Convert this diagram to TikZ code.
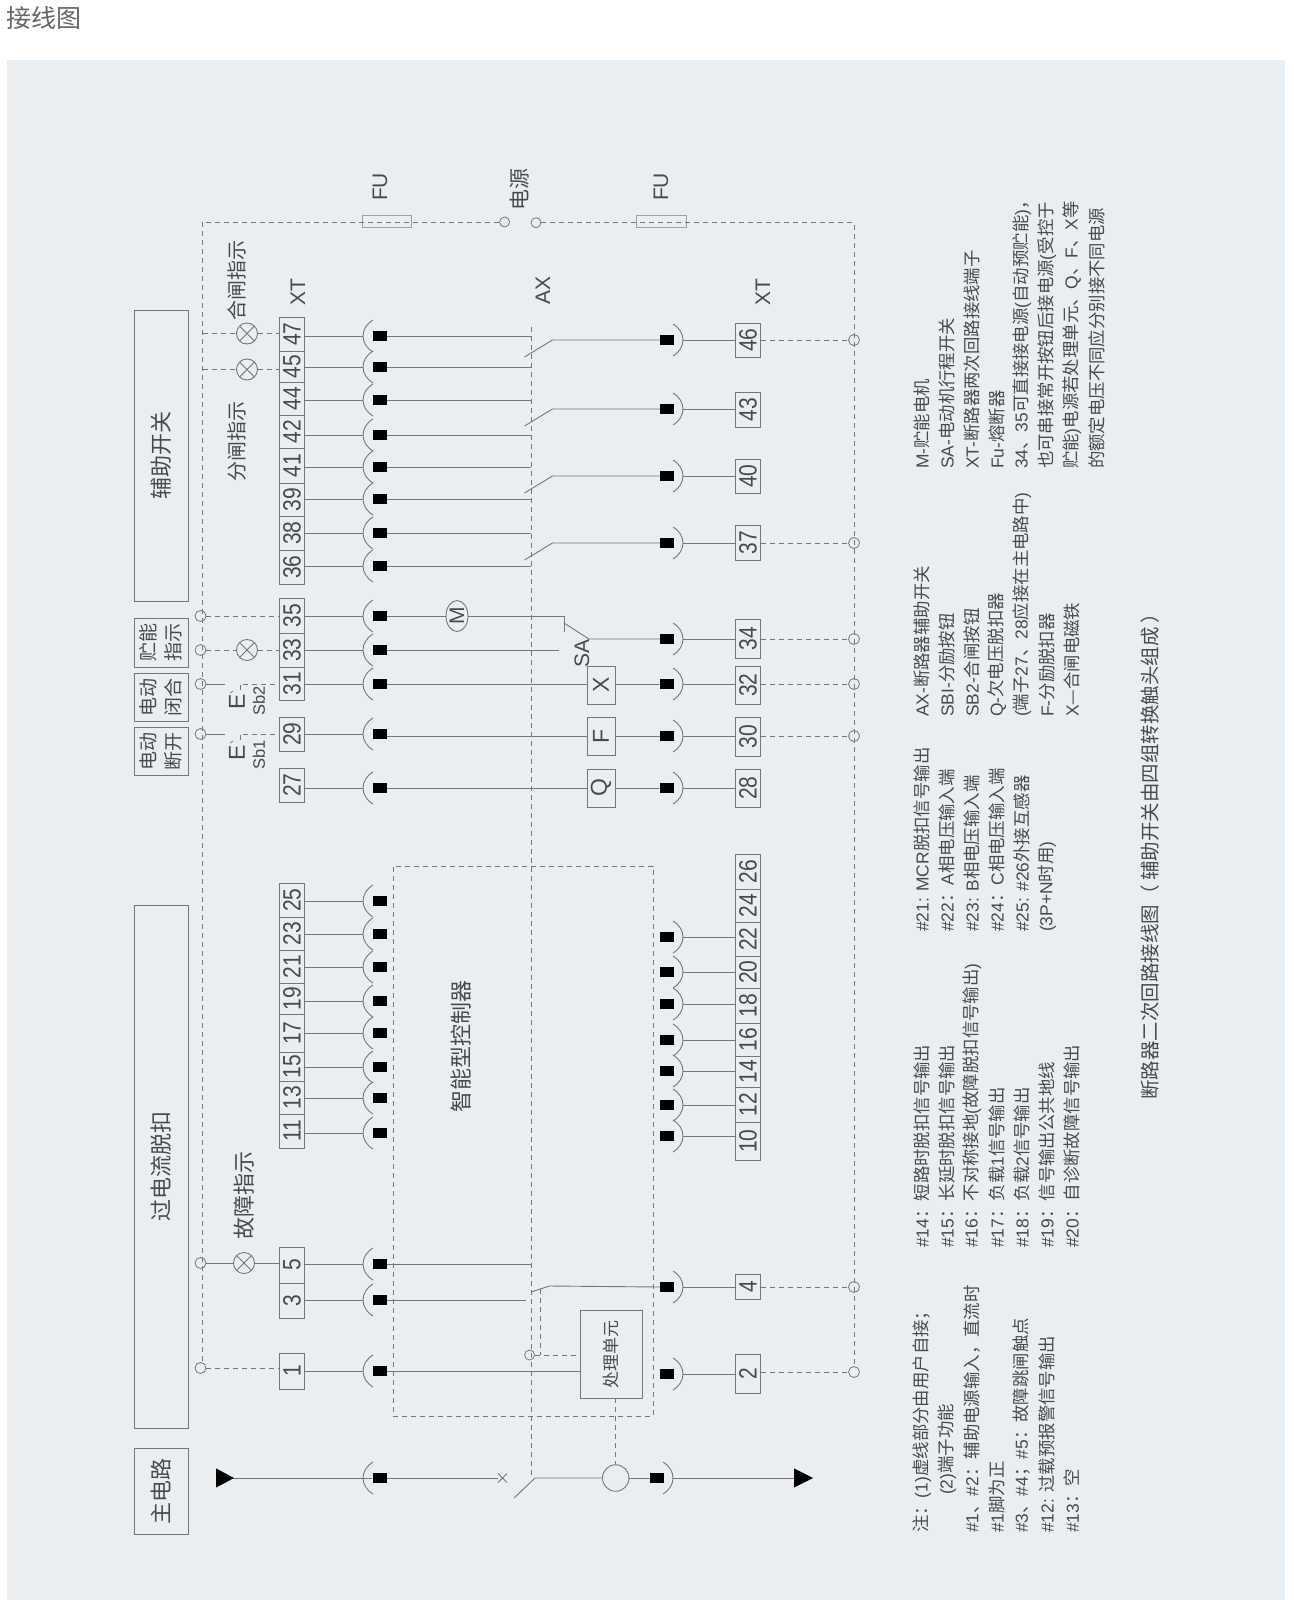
\documentclass[tikz,border=0pt]{standalone}
\usepackage{fontspec}
\usepackage{tikz}
\usetikzlibrary{arrows.meta,shapes.geometric,shapes.misc}
\setmainfont{Liberation Sans}
\newfontfamily\cjk{Noto Sans CJK SC}
\newfontfamily\numfont[FakeStretch=0.84]{Liberation Sans}
\newcommand{\zh}[1]{{\cjk #1}}
\definecolor{panel}{HTML}{E9EEF3}
\definecolor{wirec}{HTML}{777777}
\definecolor{inkc}{HTML}{4A4A4A}
\tikzset{
  wire/.style={draw=wirec, line width=0.9pt},
  dline/.style={draw=wirec, line width=0.9pt, dash pattern=on 5pt off 4pt},
  term/.style={
    rectangle, draw=wirec, line width=0.9pt, rotate=90, inner sep=0pt,
    minimum height=25.5pt, text=inkc, font=\numfont\fontsize{25}{26}\selectfont
  },
  sq/.style={
    rectangle, fill=black, inner sep=0pt,
    minimum width=14pt, minimum height=10pt
  },
  tp/.style={circle, draw=wirec, line width=0.8pt, inner sep=0pt, minimum width=11pt},
  lamp/.style={
    circle, draw=wirec, line width=0.9pt, inner sep=0pt, minimum width=21pt,
    path picture={
      \draw[wirec, line width=0.9pt] (path picture bounding box.north east)--(path picture bounding box.south west);
      \draw[wirec, line width=0.9pt] (path picture bounding box.north west)--(path picture bounding box.south east);
    }
  },
  headbox/.style={
    rectangle, draw=wirec, line width=0.9pt, rotate=90, inner sep=0pt,
    minimum height=54pt, align=center, text=inkc,
    font=\cjk\fontsize{22}{25}\selectfont
  },
  twobox/.style={headbox, minimum width=48pt, font=\cjk\fontsize{19}{25}\selectfont},
  loadbox/.style={
    rectangle, draw=wirec, line width=0.9pt, rotate=90, inner sep=0pt,
    minimum width=38pt, minimum height=28pt, text=inkc,
    font=\fontsize{23}{24}\selectfont
  },
  lbl/.style={rotate=90, inner sep=0pt, text=inkc, font=\fontsize{21}{22}\selectfont},
  zhl/.style={rotate=90, inner sep=0pt, text=inkc, font=\cjk\fontsize{20}{21}\selectfont},
  note/.style={
    rotate=90, anchor=west, inner sep=0pt, text=inkc,
    font=\fontsize{17.4}{20}\selectfont
  }
}
\newcommand{\contactl}[2]{%
  \node[sq] (s#1) at (379.5,#2) {};
  \coordinate (a#1) at (363,#2);
  \draw[wire] ([shift={(10,-16)}]a#1) .. controls ([shift={(-3.3,-8)}]a#1) and ([shift={(-3.3,8)}]a#1) .. ([shift={(10,16)}]a#1);
}
\newcommand{\contactr}[3]{%
  \node[sq] (s#1) at (#2,#3) {};
  \coordinate (a#1) at (#2+16,#3);
  \draw[wire] ([shift={(-10,-16)}]a#1) .. controls ([shift={(3.3,-8)}]a#1) and ([shift={(3.3,8)}]a#1) .. ([shift={(-10,16)}]a#1);
}
\begin{document}
\begin{tikzpicture}[x=1pt, y=-1pt]
  \useasboundingbox (0,0) rectangle (1293,1600);
  \fill[white] (0,0) rectangle (1293,1600);
  \fill[panel] (7,60) rectangle (1285,1600);
  \node[inner sep=0pt, text=black!60, font=\cjk\fontsize{25}{26}\selectfont] (title) at (44,18) {接线图};

  \node[headbox, minimum width=291pt] (hfz) at (161,455.5) {辅助开关};
  \node[twobox, minimum width=49pt] (hzn) at (161,642.5) {贮能\\指示};
  \node[twobox] (hdb) at (161,697) {电动\\闭合};
  \node[twobox] (hdk) at (161,751) {电动\\断开};
  \node[headbox, minimum width=523pt] (hgl) at (161,1166.5) {过电流脱扣};
  \node[headbox, minimum width=86pt] (hzd) at (161,1491) {主电路};

  \foreach \n/\cy/\h/\ly in {47/334/34/336, 45/366.5/31/367, 44/398.5/33/400, 42/431.5/33/435,
    41/465.5/35/467, 39/499.5/33/499, 38/533/34/533, 36/567/34/566,
    35/615.5/35/616, 33/650/34/650, 31/683.5/33/684, 29/734/34/734, 27/785/34/788,
    25/900/34/901, 23/933.5/33/934, 21/966.5/33/967, 19/998.5/31/1001, 17/1033/38/1033,
    15/1066.5/29/1067, 13/1097.5/33/1098, 11/1131/34/1133, 5/1265/36/1264, 3/1300.5/35/1300,
    1/1371/36/1371} {
    \node[term, minimum width=\h pt] (t\n) at (292,\cy) {\n};
    \contactl{\n}{\ly}
    \draw[wire] (t\n.south |- a\n) -- (a\n);
  }

  \foreach \n/\cy/\h/\ly in {46/340/34/340, 43/409.5/35/409, 40/476/34/476, 37/542.5/35/543,
    34/638.5/39/639, 32/685/38/684, 30/736.5/39/736, 28/788/38/788,
    22/939/34/937, 20/972/32/972, 18/1005.5/35/1004, 16/1039.5/33/1040,
    14/1071.5/31/1071, 12/1104.5/35/1105, 10/1141/38/1136, 4/1286.5/25/1287, 2/1373.5/39/1374} {
    \node[term, minimum width=\h pt] (t\n) at (748,\cy) {\n};
    \contactr{\n}{667}{\ly}
    \draw[wire] (t\n.north |- a\n) -- (a\n);
  }
  \node[term, minimum width=35pt] (t26) at (748,871.5) {26};
  \node[term, minimum width=33pt] (t24) at (748,905.5) {24};

  \coordinate (ax) at (531,327);
  \coordinate (axb) at (531,1477);
  \draw[dline] (ax) -- (axb);
  \foreach \n in {47,45,44,42,41,39,38,36,5} {
    \draw[wire] (s\n.east) -- (s\n.east -| ax);
  }
  \foreach \n/\ly in {46/340,43/409,40/476,37/543} {
    \coordinate (k\n) at (552.5,\ly);
    \coordinate (b\n) at (524.5,\ly+17);
    \draw[wire] (b\n) -- (k\n) -- (s\n.west);
  }

  \node[ellipse, draw=wirec, line width=0.9pt, rotate=90, inner sep=0pt, minimum width=31pt,
    minimum height=22pt, text=inkc, font=\fontsize{21}{22}\selectfont] (motor) at (457,616) {M};
  \coordinate (sa1) at (564,617);
  \coordinate (sa2) at (564,632);
  \coordinate (sa3) at (564,623);
  \coordinate (sa4) at (589,639);
  \coordinate (sa5) at (559,650);
  \draw[wire] (s35.east) -- (motor);
  \draw[wire] (motor) -- (motor -| sa1) -- (sa2);
  \draw[wire] (sa3) -- (sa4) -- (s34.west);
  \draw[wire] (s33.east) -- (sa5);
  \node[lbl] (lsa) at (582,653) {SA};

  \node[loadbox] (bx) at (601,685) {X};
  \node[loadbox] (bf) at (601,736.5) {F};
  \node[loadbox] (bq) at (601,788) {Q};
  \draw[wire] (s31.east) -- (s31.east -| bx.north);
  \draw[wire] (bx.south |- s32) -- (s32.west);
  \draw[wire] (s30.west -| s29.east) -- (bf.north |- s30);
  \draw[wire] (bf.south |- s30) -- (s30.west);
  \draw[wire] (s27.east) -- (s27.east -| bq.north);
  \draw[wire] (bq.south |- s28) -- (s28.west);

  \coordinate (tl) at (202.5,222);
  \coordinate (tr) at (854,222.7);
  \node[tp, minimum width=10pt] (pw1) at (504.6,222) {};
  \node[tp, minimum width=10pt] (pw2) at (536,222.7) {};
  \node[rectangle, draw=wirec!70, line width=0.9pt, inner sep=0pt, minimum width=49pt, minimum height=11.5pt] (fu1) at (386.5,221.5) {};
  \node[rectangle, draw=wirec!70, line width=0.9pt, inner sep=0pt, minimum width=50pt, minimum height=12pt] (fu2) at (661,221.5) {};
  \node[lbl] (lfu1) at (380,187) {FU};
  \node[lbl] (lfu2) at (661,187) {FU};
  \node[zhl, font=\cjk\fontsize{21}{22}\selectfont] (lpw) at (520,189) {电源};
  \node[lbl] (lxt1) at (298,292) {XT};
  \node[lbl] (lax) at (543,290) {AX};
  \node[lbl] (lxt2) at (763,292) {XT};

  \node[tp] (p35) at (200.5,616) {};
  \node[tp] (p33) at (200.5,650) {};
  \node[tp] (p31) at (200.5,684) {};
  \node[tp] (p29) at (200.5,734) {};
  \node[tp] (p5) at (200.5,1263) {};
  \node[tp] (p1) at (200.5,1368) {};
  \draw[dline] (pw1) -- (tl) -- (tl |- p1.north);
  \foreach \n/\ly in {46/340,37/543,34/639,32/684,30/736,4/1287,2/1372} {
    \node[tp] (r\n) at (854,\ly) {};
    \draw[dline] (t\n.south |- r\n) -- (r\n);
  }
  \draw[dline] (pw2) -- (tr) -- (r2);

  \node[lamp] (l47) at (247,333.5) {};
  \node[lamp] (l45) at (247,369.5) {};
  \node[lamp] (l33) at (247,650) {};
  \node[lamp] (l5) at (244,1263) {};
  \draw[dline] (l47 -| tl) -- (l47);
  \draw[dline] (l47) -- (l47 -| t47.north);
  \draw[dline] (l45 -| tl) -- (l45);
  \draw[dline] (l45) -- (l45 -| t45.north);
  \draw[dline] (p35) -- (p35 -| t35.north);
  \draw[dline] (p33) -- (l33);
  \draw[dline] (l33) -- (l33 -| t33.north);
  \draw[wire] (p5) -- (l5);
  \draw[wire] (l5) -- (l5 -| t5.north);
  \draw[dline] (p1) -- (p1 -| t1.north);
  \node[zhl] (lhz) at (237,280) {合闸指示};
  \node[zhl] (lfz) at (237,441) {分闸指示};
  \node[zhl, font=\cjk\fontsize{22}{23}\selectfont] (lgz) at (244,1195) {故障指示};

  \foreach \n/\ly/\ey/\ty/\sb in {31/684/702/701/Sb2,29/734/753/755/Sb1} {
    \coordinate (bt\n) at (225,\ly);
    \coordinate (bd\n) at (243,\ly);
    \coordinate (bm\n) at (240,\ly+1);
    \coordinate (bn\n) at (240,\ly+6);
    \coordinate (bo\n) at (230,\ly+9);
    \coordinate (bq\n) at (233,\ly+7);
    \draw[wire] (p\n) -- (bt\n);
    \draw[dline] (bd\n) -- (bd\n -| t\n.north);
    \draw[wire, line width=0.7pt] (bm\n) -- (bn\n);
    \draw[wire, line width=0.7pt] (bo\n) -- (bq\n);
    \node[lbl, font=\fontsize{23}{24}\selectfont] (le\n) at (237,\ey) {E};
    \node[lbl, font=\fontsize{16.5}{17}\selectfont] (lb\n) at (259,\ty) {\sb};
  }

  \node[rectangle, draw=wirec, line width=0.9pt, dash pattern=on 5pt off 4pt, inner sep=0pt,
    minimum width=260pt, minimum height=550pt] (ctrl) at (523,1141) {};
  \node[zhl, font=\cjk\fontsize{22}{23}\selectfont] (lctrl) at (461,1046) {智能型控制器};

  \coordinate (k3) at (549.5,1286);
  \coordinate (b3) at (531,1292);
  \coordinate (d3) at (540,1289);
  \coordinate (e3) at (526,1300);
  \draw[wire] (b3) -- (k3) -- (s4.west);
  \draw[wire] (s3.east) -- (e3);
  \node[rectangle, draw=wirec, line width=0.9pt, rotate=90, inner sep=0pt, minimum width=88pt,
    minimum height=62pt, text=inkc, font=\cjk\fontsize{17}{18}\selectfont] (proc) at (611,1354) {处理单元};
  \node[tp, minimum width=10pt] (pc) at (529.6,1355) {};
  \draw[dline] (d3) -- (d3 |- pc);
  \draw[dline] (pc) -- (proc.north |- pc);
  \draw[wire] (s1.east) -- (s1.east -| proc.north);
  \contactl{main}{1478}
  \contactr{mo}{657}{1478}
  \coordinate (mi) at (216,1478);
  \coordinate (mout) at (813,1478);
  \coordinate (msw1) at (514,1498);
  \coordinate (msw2) at (535,1478);
  \node[cross out, draw=wirec, line width=0.9pt, inner sep=0pt, minimum size=8pt] (mx) at (502.5,1478) {};
  \node[circle, draw=wirec, line width=0.9pt, inner sep=0pt, minimum width=26.5pt] (ct) at (615.7,1478) {};
  \draw[wire, {Triangle[reversed, black, length=18pt, width=19pt]}-] (mi) -- (smain.west);
  \draw[wire] (smain.east) -- (mx);
  \draw[wire] (msw1) -- (msw2) -- (ct);
  \draw[wire] (ct) -- (smo.west);
  \draw[wire, -{Triangle[black, length=19pt, width=19pt]}] (amo) -- (mout);
  \draw[dline] (proc.west -| ct) -- (ct);

  \foreach \x/\y/\txt [count=\i] in {
    922/1533/{\zh{注：}(1)\zh{虚线部分由用户自接；}},
    947/1495/{(2)\zh{端子功能}},
    972/1533/{\#1\zh{、}\#2\zh{：辅助电源输入，直流时}},
    997/1533/{\#1\zh{脚为正}},
    1022/1533/{\#3\zh{、}\#4\zh{；}\#5\zh{：故障跳闸触点}},
    1047/1533/{\#12: \zh{过载预报警信号输出}},
    1072/1533/{\#13\zh{：空}},
    922/1248/{\#14\zh{：短路时脱扣信号输出}},
    947/1248/{\#15\zh{：长延时脱扣信号输出}},
    972/1248/{\#16\zh{：不对称接地}(\zh{故障脱扣信号输出})},
    997/1248/{\#17\zh{：负载}1\zh{信号输出}},
    1022/1248/{\#18\zh{：负载}2\zh{信号输出}},
    1047/1248/{\#19\zh{：信号输出公共地线}},
    1072/1248/{\#20\zh{：自诊断故障信号输出}},
    922/932/{\#21: MCR\zh{脱扣信号输出}},
    947/932/{\#22\zh{：}A\zh{相电压输入端}},
    972/932/{\#23: B\zh{相电压输入端}},
    997/932/{\#24\zh{：}C\zh{相电压输入端}},
    1022/932/{\#25: \#26\zh{外接互感器}},
    1047/932/{(3P+N\zh{时用})},
    922/717/{AX-\zh{断路器辅助开关}},
    947/717/{SBI-\zh{分励按钮}},
    972/717/{SB2-\zh{合闸按钮}},
    997/717/{Q-\zh{欠电压脱扣器}},
    1022/717/{(\zh{端子}27\zh{、}28\zh{应接在主电路中})},
    1047/717/{F-\zh{分励脱扣器}},
    1072/717/{X\zh{—合闸电磁铁}},
    922/469/{M-\zh{贮能电机}},
    947/469/{SA-\zh{电动机行程开关}},
    972/469/{XT-\zh{断路器两次回路接线端子}},
    997/469/{Fu-\zh{熔断器}},
    1022/469/{34\zh{、}35\zh{可直接接电源}(\zh{自动预贮能})\zh{，}},
    1047/469/{\zh{也可串接常开按钮后接电源}(\zh{受控于}},
    1072/469/{\zh{贮能})\zh{电源若处理单元、}Q\zh{、}F\zh{、}X\zh{等}},
    1097/469/{\zh{的额定电压不同应分别接不同电源}}} {
    \node[note] (n\i) at (\x,\y) {\txt};
  }
  \node[note, font=\cjk\fontsize{19.5}{20}\selectfont] (caption) at (1150,1100) {断路器二次回路接线图（ 辅助开关由四组转换触头组成 ）};
\end{tikzpicture}
\end{document}
